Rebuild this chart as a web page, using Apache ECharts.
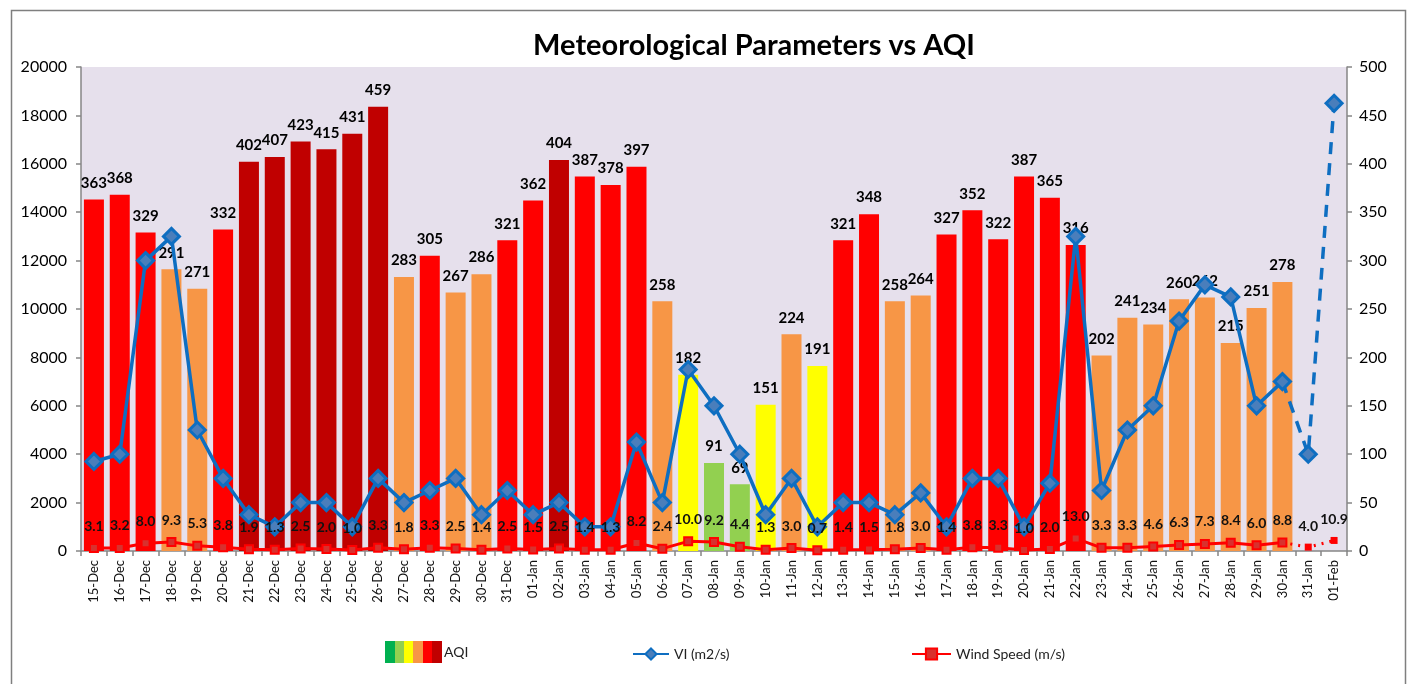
<!DOCTYPE html>
<html>
<head>
<meta charset="utf-8">
<script src="https://cdn.jsdelivr.net/npm/echarts@6/dist/echarts.min.js"></script>
<style>
html,body{margin:0;padding:0;background:#fff;}
#chart{width:1411px;height:684px;}
</style>
</head>
<body>
<div id="chart"></div>
<script>
const categories = ['15-Dec','16-Dec','17-Dec','18-Dec','19-Dec','20-Dec','21-Dec','22-Dec','23-Dec','24-Dec','25-Dec','26-Dec','27-Dec','28-Dec','29-Dec','30-Dec','31-Dec',
  '01-Jan','02-Jan','03-Jan','04-Jan','05-Jan','06-Jan','07-Jan','08-Jan','09-Jan','10-Jan','11-Jan','12-Jan','13-Jan','14-Jan','15-Jan','16-Jan','17-Jan','18-Jan','19-Jan','20-Jan','21-Jan','22-Jan','23-Jan','24-Jan','25-Jan','26-Jan','27-Jan','28-Jan','29-Jan','30-Jan','31-Jan','01-Feb'];

const aqi = [363,368,329,291,271,332,402,407,423,415,431,459,283,305,267,286,321,
  362,404,387,378,397,258,182,91,69,151,224,191,321,348,258,264,327,352,322,387,365,316,202,241,234,260,262,215,251,278,null,null];

const vi = [3700,4000,12000,13000,5000,3000,1500,1000,2000,2000,1000,3000,2000,2500,3000,1500,2500,
  1500,2000,1000,1000,4500,2000,7500,6000,4000,1500,3000,1000,2000,2000,1500,2400,1000,3000,3000,1000,2800,13000,2500,5000,6000,9500,11000,10500,6000,7000,4000,18500];

const wind = [3.1,3.2,8.0,9.3,5.3,3.8,1.9,1.3,2.5,2.0,1.0,3.3,1.8,3.3,2.5,1.4,2.5,
  1.5,2.5,1.4,1.3,8.2,2.4,10.0,9.2,4.4,1.3,3.0,0.7,1.4,1.5,1.8,3.0,1.4,3.8,3.3,1.0,2.0,13.0,3.3,3.3,4.6,6.3,7.3,8.4,6.0,8.8,4.0,10.9];

const lastObserved = 46; // index of 30-Jan; later points are drawn dashed/dotted

const leftTicks = {min:0, max:20000, interval:2000};
const rightTicks = {min:0, max:500, interval:50};

function aqiColor(v){
  if (v > 400) return '#C00000';
  if (v > 300) return '#FF0000';
  if (v > 200) return '#F79646';
  if (v > 100) return '#FFFF00';
  if (v > 50) return '#92D050';
  return '#00B050';
}

const viSolid = vi.map((v,i)=> i<=lastObserved ? v : null);
const viDash = vi.map((v,i)=> i>=lastObserved ? {value:v, symbolSize: i===lastObserved?0:16} : null);
const windSolid = wind.map((v,i)=> i<=lastObserved ? v : null);
const windDot = wind.map((v,i)=> i>=lastObserved ? {value:v, label:{show:i>lastObserved}, symbolSize: i===lastObserved?0:7} : null);

const FONT = 'Lato';
const chart = echarts.init(document.getElementById('chart'));

const aqiGradient = {type:'linear', x:0, y:0, x2:1, y2:0, colorStops:[
  {offset:0, color:'#00B050'},{offset:0.17, color:'#00B050'},
  {offset:0.17, color:'#92D050'},{offset:0.34, color:'#92D050'},
  {offset:0.34, color:'#FFFF00'},{offset:0.5, color:'#FFFF00'},
  {offset:0.5, color:'#F79646'},{offset:0.67, color:'#F79646'},
  {offset:0.67, color:'#FF0000'},{offset:0.83, color:'#FF0000'},
  {offset:0.83, color:'#C00000'},{offset:1, color:'#C00000'}
]};

const option = {
  animation:false,
  textStyle:{fontFamily:FONT},
  title:{
    text:'Meteorological Parameters vs AQI',
    left:749, top:26, textAlign:'center',
    textStyle:{fontFamily:FONT, fontSize:29, fontWeight:'bold', color:'#000'}
  },
  graphic:[{
    type:'rect', left:9, top:8, shape:{width:1394, height:675},
    style:{fill:'none', stroke:'#7f7f7f', lineWidth:1.5}, silent:true, z:-1
  }],
  legend:[
    {data:[{name:'AQI', itemStyle:{color:aqiGradient}}], left:380, top:636, itemWidth:57, itemHeight:22, icon:'rect', itemGap:2,
      textStyle:{fontFamily:FONT, fontSize:14, color:'#222', padding:[0,0,0,-3]}, selectedMode:false},
    {data:['VI (m2/s)'], left:627, top:642, itemWidth:36, itemHeight:14,
      textStyle:{fontFamily:FONT, fontSize:14, color:'#222'}, selectedMode:false},
    {data:['Wind Speed (m/s)'], left:906, top:642, itemWidth:39, itemHeight:14,
      textStyle:{fontFamily:FONT, fontSize:14, color:'#222'}, selectedMode:false}
  ],
  grid:{left:81, right:64, top:67, bottom:133, show:true, backgroundColor:'#E6E0EC', borderWidth:0},
  xAxis:{
    type:'category', data:categories, boundaryGap:true,
    axisLine:{lineStyle:{color:'#868686', width:1.5}},
    axisTick:{show:true, interval:0, length:5, lineStyle:{color:'#868686', width:1.5}},
    axisLabel:{interval:0, rotate:90, fontSize:13, color:'#111', fontFamily:FONT, margin:9}
  },
  yAxis:[
    {type:'value', min:leftTicks.min, max:leftTicks.max, interval:leftTicks.interval, position:'left',
      axisLine:{show:true, lineStyle:{color:'#868686', width:1.5}},
      axisTick:{show:true, length:5, lineStyle:{color:'#868686', width:1.5}},
      splitLine:{show:false},
      axisLabel:{fontSize:16, color:'#000', fontFamily:FONT, margin:14, formatter:v=>String(v)}},
    {type:'value', min:rightTicks.min, max:rightTicks.max, interval:rightTicks.interval, position:'right',
      axisLine:{show:true, lineStyle:{color:'#868686', width:1.5}},
      axisTick:{show:true, length:5, lineStyle:{color:'#868686', width:1.5}},
      splitLine:{show:false},
      axisLabel:{fontSize:16, color:'#000', fontFamily:FONT, margin:12, formatter:v=>String(v)}}
  ],
  series:[
    {name:'AQI', type:'bar', yAxisIndex:1, data:aqi, barWidth:20,
      itemStyle:{color:p=>aqiColor(p.value)},
      label:{show:true, position:'top', distance:9, fontSize:15, fontWeight:'bold', color:'#000', fontFamily:FONT}, z:2},
    {name:'VI dashed', type:'line', yAxisIndex:0, data:viDash, symbol:'diamond', symbolSize:16,
      lineStyle:{color:'#0E6EC1', width:3.5, type:[12,9]},
      itemStyle:{color:'#4A7EBB', borderColor:'#0E6EC1', borderWidth:3}, z:3},
    {name:'VI (m2/s)', type:'line', yAxisIndex:0, data:viSolid, symbol:'diamond', symbolSize:16,
      lineStyle:{color:'#0E6EC1', width:3.5},
      itemStyle:{color:'#4A7EBB', borderColor:'#0E6EC1', borderWidth:3}, z:4},
    {name:'Wind dotted', type:'line', yAxisIndex:1, data:windDot, symbol:'rect', symbolSize:7,
      lineStyle:{color:'#FF0000', width:3, type:[2,6]},
      itemStyle:{color:'#FF0000'},
      label:{position:'top', distance:10, fontSize:14, fontWeight:'bold', color:'#111', fontFamily:FONT, formatter:p=>p.value.toFixed(1)}, z:5},
    {name:'Wind Speed (m/s)', type:'line', yAxisIndex:1, data:windSolid, symbol:'rect', symbolSize:8,
      lineStyle:{color:'#FF0000', width:3},
      itemStyle:{color:'#D8312E', borderColor:'#FF0000', borderWidth:2},
      label:{show:true, position:'top', distance:10, fontSize:14, fontWeight:'bold', color:'#111', fontFamily:FONT, formatter:p=>p.value.toFixed(1)}, z:6}
  ]
};
chart.setOption(option);
</script>
</body>
</html>
